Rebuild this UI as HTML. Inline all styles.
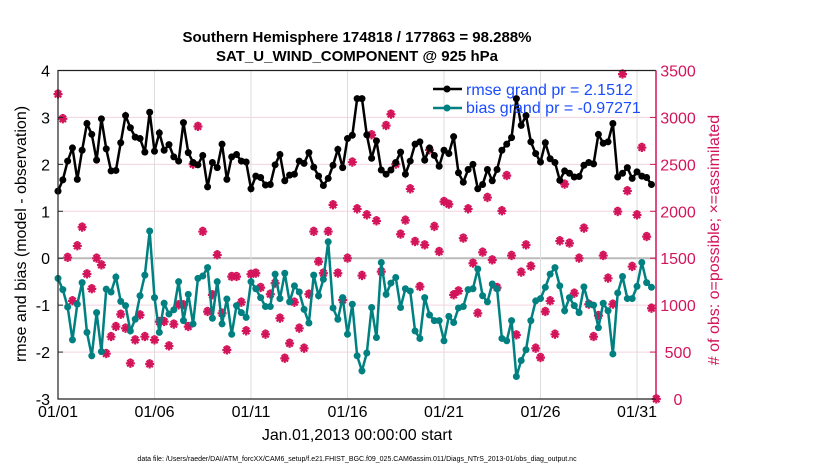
<!DOCTYPE html>
<html><head><meta charset="utf-8"><style>
html,body{margin:0;padding:0;background:#fff;}
svg{display:block;font-family:"Liberation Sans",Arial,sans-serif;}
</style></head><body>
<svg id="chart" width="830" height="470" viewBox="0 0 830 470">
<text x="357" y="42" text-anchor="middle" font-size="15" font-weight="bold">Southern Hemisphere 174818 / 177863 = 98.288%</text>
<text x="357" y="61" text-anchor="middle" font-size="15" font-weight="bold">SAT_U_WIND_COMPONENT @ 925 hPa</text>
<g id="grid"></g>
<g id="marks"></g>
<g id="axes"></g>
<text transform="translate(26,234) rotate(-90)" text-anchor="middle" font-size="16">rmse and bias (model - observation)</text>
<text transform="translate(719,240) rotate(-90)" text-anchor="middle" font-size="16" fill="#d4145a"># of obs: o=possible; ×=assimilated</text>
<text x="357" y="440" text-anchor="middle" font-size="16">Jan.01,2013 00:00:00 start</text>
<text x="357" y="461" text-anchor="middle" font-size="7">data file: /Users/raeder/DAI/ATM_forcXX/CAM6_setup/f.e21.FHIST_BGC.f09_025.CAM6assim.011/Diags_NTrS_2013-01/obs_diag_output.nc</text>
<g id="legend">
<line x1="433" y1="89" x2="462" y2="89" stroke="#000" stroke-width="2.5"/>
<circle cx="447" cy="89" r="3.5" fill="#000"/>
<text x="466" y="95" font-size="16" fill="#1a4bff">rmse grand pr = 2.1512</text>
<line x1="433" y1="108" x2="462" y2="108" stroke="#008080" stroke-width="2.5"/>
<circle cx="447" cy="108" r="3.5" fill="#008080"/>
<text x="466" y="113" font-size="16" fill="#1a4bff">bias grand pr = -0.97271</text>
</g>
</svg>
<script>
const rmse = [1.43,1.67,2.07,2.35,1.68,2.30,2.87,2.64,2.09,2.97,2.33,1.86,1.87,2.46,3.04,2.78,2.58,2.55,2.26,3.11,2.28,2.67,2.30,2.42,2.16,2.07,2.89,2.25,2.04,1.99,2.19,1.52,
2.04,1.93,2.43,1.68,2.16,2.21,2.07,2.05,1.48,1.75,1.72,1.56,1.57,1.99,2.21,1.65,1.77,1.79,2.07,2.02,2.25,1.94,1.75,1.55,1.70,1.98,2.32,1.93,2.55,2.62,3.40,
3.40,2.63,2.13,2.50,1.88,1.79,1.88,2.04,2.26,1.79,2.07,2.43,2.48,2.09,2.35,2.19,1.96,2.30,2.23,2.59,1.82,1.62,1.89,2.00,1.48,1.57,1.89,1.65,1.89,2.30,2.43,
2.57,3.40,2.83,3.04,2.48,2.23,2.05,2.46,2.12,2.04,1.66,1.86,1.81,1.73,1.74,1.98,2.04,2.01,2.64,2.45,2.48,2.87,1.73,1.81,1.93,1.70,1.84,1.75,1.72,1.57];
const bias = [-0.43,-0.67,-1.04,-1.74,-0.98,-0.52,-1.58,-2.08,-1.16,-1.99,-0.66,-0.72,-0.40,-0.92,-1.01,-1.55,-1.30,-0.80,-0.36,0.58,-0.84,-1.58,-0.96,-1.19,-1.10,-0.50,-1.33,-0.77,-1.40,-0.43,-0.38,-0.20,
-1.28,-0.50,-1.40,-0.87,-1.62,-1.01,-1.16,-1.26,-0.50,-0.65,-0.84,-1.03,-1.03,-0.34,-0.86,-0.32,-0.93,-0.59,-0.72,-1.09,-1.38,-0.36,-0.80,-0.45,0.35,-1.06,-1.30,-0.84,-1.62,-0.98,-2.08,
-2.40,-2.02,-1.05,-1.69,-0.09,-0.77,-0.53,-0.41,-1.05,-0.65,-0.70,-1.55,-1.71,-0.84,-1.21,-1.33,-1.33,-1.76,-1.24,-1.37,-1.06,-1.03,-0.67,-0.65,-0.23,-0.80,-0.93,-0.55,-0.65,-1.71,-1.76,
-1.33,-2.52,-2.18,-1.95,-1.33,-0.91,-0.86,-0.62,-0.34,-0.20,-0.59,-1.12,-0.84,-1.01,-1.16,-0.61,-0.98,-1.00,-1.48,-0.96,-1.12,-2.04,-0.74,-0.39,-0.86,-0.86,-0.60,-0.09,-0.52,-0.62];
const nAssim = [3248,2985,1507,1045,1631,1830,1332,1173,1499,1428,483,664,771,902,753,380,629,895,664,373,629,824,824,565,796,1002,1002,771,2501,2903,1784,931,
1109,1535,913,522,1304,1304,1030,725,1329,1340,1187,689,1116,1233,860,433,593,1030,753,540,1116,1784,1464,1340,1784,2068,1340,1055,1499,2523,2025,
1315,1961,2814,1897,1357,2913,3034,2501,1755,1904,2238,1677,1197,1641,2654,1837,1570,2103,2075,1109,1151,1713,2025,1446,913,1563,2146,1481,1187,2004,2380,
1528,682,1350,1641,1414,540,441,931,1045,689,1684,2288,1659,1126,1499,1819,1009,664,888,1528,1286,1009,1997,3461,2217,1411,1961,2679,1730,966,0];
const nPossible = nAssim.slice();
const xTickLabels = ["01/01","01/06","01/11","01/16","01/21","01/26","01/31"];
const xTickDays = [1,6,11,16,21,26,31];
const yLeftTicks = [4,3,2,1,0,-1,-2,-3];
const yRightTicks = [3500,3000,2500,2000,1500,1000,500,0];

const NS="http://www.w3.org/2000/svg";
const L=58,R=656,T=70.5,B=399;
const xs=d=>L+(d-1)*19.3;
const yl=v=>T+(4-v)/7*(B-T);
const yr=v=>B-v/3500*(B-T);
const dayOf=i=>1+i*0.25;
function mk(tag,attrs,parent){const e=document.createElementNS(NS,tag);for(const k in attrs)e.setAttribute(k,attrs[k]);parent.appendChild(e);return e;}
const grid=document.getElementById('grid'),marks=document.getElementById('marks'),axes=document.getElementById('axes');

yLeftTicks.forEach(v=>{
  const g=mk('line',{x1:L,x2:R,y1:yl(v),y2:yl(v),stroke:v===0?'#bbb':'#f3d3e0','stroke-width':v===0?2:1},grid);
  
  
  const t=mk('text',{x:L-8,y:yl(v)+6,'text-anchor':'end','font-size':16},axes);t.textContent=v;
  
  
  const tk=mk('line',{x1:L,x2:L+5,y1:yl(v),y2:yl(v),stroke:'#222'},axes);
  
  
});
xTickDays.forEach((d,i)=>{
  const g=mk('line',{x1:xs(d),x2:xs(d),y1:T,y2:B,stroke:'#ddd','stroke-width':1},grid);
  
  
  const t=mk('text',{x:xs(d),y:B+18,'text-anchor':'middle','font-size':16},axes);t.textContent=xTickLabels[i];
  
  
});
yRightTicks.forEach(v=>{
  const t=mk('text',{x:678,y:yr(v)+6,'font-size':16,'text-anchor':'middle',fill:'#d4145a'},axes);t.textContent=v;
  
  
  const tk=mk('line',{x1:R-6,x2:R,y1:yr(v),y2:yr(v),stroke:'#d4145a'},axes);
  
  
});
const fr=mk('path',{d:`M${R},${T}H${L}V${B}H${R}`,fill:'none',stroke:'#222','stroke-width':1.2},axes);


const ra=mk('line',{x1:R,x2:R,y1:T,y2:B,stroke:'#d4145a','stroke-width':1.5},axes);



nAssim.forEach((v,i)=>{
  const x=xs(dayOf(i)),y=yr(v),yp=yr(nPossible[i]);
  const c=mk('circle',{cx:x,cy:yp-2,r:2.3,fill:'none',stroke:'#d4145a','stroke-width':1.2},marks);
  
  
  const s=mk('path',{d:`M${x-4.5},${y}H${x+4.5}M${x},${y-4.5}V${y+4.5}M${x-3.2},${y-3.2}L${x+3.2},${y+3.2}M${x-3.2},${y+3.2}L${x+3.2},${y-3.2}`,stroke:'#d4145a','stroke-width':2.2},marks);
  
  
});
function series(vals,color,name){
  const p=mk('polyline',{points:vals.map((v,i)=>xs(dayOf(i))+','+yl(v)).join(' '),fill:'none',stroke:color,'stroke-width':2.5},marks);
  
  
  vals.forEach((v,i)=>{
    const c=mk('circle',{cx:xs(dayOf(i)),cy:yl(v),r:3.5,fill:color},marks);
    
    
  });
}
series(rmse,'#000','rmse');
series(bias,'#008080','bias');
document.getElementById('chart').appendChild(document.getElementById('legend'));
</script>
</body></html>
